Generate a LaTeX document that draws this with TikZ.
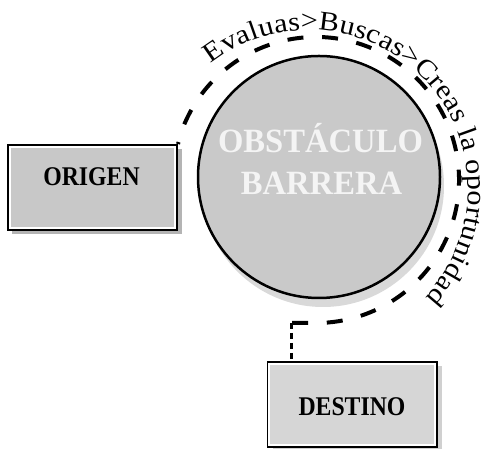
\documentclass[tikz,border=0pt]{standalone}
\usepackage{fontspec}
\setmainfont{Liberation Serif}
\newfontfamily\arcfont[FakeStretch=1.12]{Liberation Serif}
\newfontfamily\boxfont[FakeStretch=0.88]{Liberation Serif}
\newfontfamily\titlefont[FakeStretch=0.96]{Liberation Serif}
\newcommand\myarcsize{\arcfont\fontsize{27}{27}\selectfont}
\usetikzlibrary{decorations.text}
\definecolor{boxgrayA}{HTML}{C8C8C8}
\definecolor{boxgrayB}{HTML}{D6D6D6}
\definecolor{circfill}{HTML}{C9C9C9}
\definecolor{circshadow}{HTML}{D9D9D9}
\definecolor{boxshadowA}{HTML}{B4B4B4}
\definecolor{boxshadowB}{HTML}{D0D0D0}
\definecolor{titlewhite}{HTML}{F4F4F4}
\begin{document}
\begin{tikzpicture}[x=1pt,y=1pt,
  boxnode/.style={draw=black, line width=2pt, minimum width=169pt, minimum height=85pt, inner sep=0pt},
  boxlabel/.style={font=\boxfont\fontsize{27}{27}\selectfont\bfseries, inner sep=0pt},
  titletext/.style={font=\titlefont\fontsize{34}{34}\selectfont\bfseries, text=titlewhite, inner sep=0pt},
  dashline/.style={line width=4pt, dash pattern=on 16pt off 18.7pt, dash phase=14pt},
  dotline/.style={line width=3pt, dash pattern=on 6pt off 4pt},
  innerline/.style={draw=white, line width=2pt},
]
\useasboundingbox (0,0) rectangle (482,449);
\fill[white] (0,0) rectangle (482,449);
% shadows
\fill[circshadow] (323,263) circle[radius=121];
\fill[boxshadowA] (12,215) rectangle (182,300);
\fill[boxshadowB] (273,0) rectangle (442,83);
% boxes
\node[boxnode, fill=boxgrayA] (origen) at (92.5,261.5) {};
\draw[innerline] ([shift={(2.8,2.8)}]origen.south west) rectangle ([shift={(-2.8,-2.8)}]origen.north east);
\node[boxlabel] (origenlabel) at (91.5,272) {ORIGEN};
\node[boxnode, fill=boxgrayB] (destino) at (352,44.5) {};
\draw[innerline] ([shift={(2.8,2.8)}]destino.south west) rectangle ([shift={(-2.8,-2.8)}]destino.north east);
\node[boxlabel] (destinolabel) at (352,42.5) {DESTINO};
% circle
\node[circle, draw=black, line width=2.5pt, fill=circfill, minimum size=242pt, inner sep=0pt] (obst) at (319,272) {};
\node[titletext, anchor=base] (obsttop) at (320.5,296) {OBSTÁCULO};
\node[titletext, anchor=base] (obstbot) at (321.5,254) {BARRERA};
% dashed path
\coordinate (arcc) at (316,269);
\coordinate (bend) at (291,126);
\draw[dashline] (origen.north east) -- ([shift={(158:143)}]arcc) arc[start angle=158, end angle=-92, radius=143] -- (bend);
\draw[dotline] (bend) -- (bend |- destino.north);
% curved text
\coordinate (textc) at (309,260);
\begingroup\myarcsize
\path[decorate, decoration={text along path, text={|\myarcsize|Evaluas>Buscas>Creas la oportunidad}, text align={fit to path}}] ([shift={(128:159)}]textc) arc[start angle=128, end angle=-43, radius=159];
\endgroup
\end{tikzpicture}
\end{document}
